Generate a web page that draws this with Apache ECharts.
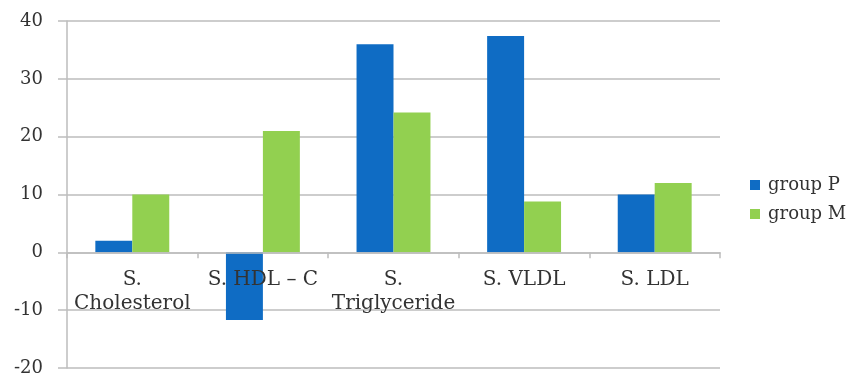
<!DOCTYPE html>
<html>
<head>
<meta charset="utf-8">
<script src="https://cdn.jsdelivr.net/npm/echarts@6/dist/echarts.min.js"></script>
<style>
  html, body { margin: 0; padding: 0; background: #ffffff; }
  #chart { width: 854px; height: 374px; }
</style>
</head>
<body>
<div id="chart"></div>
<script>
// Lipid profile changes per group
const categories = ['S.\nCholesterol', 'S. HDL \u2013 C', 'S.\nTriglyceride', 'S. VLDL', 'S. LDL'];
const groupP = [2, -11.7, 36, 37.4, 10];
const groupM = [10, 21, 24.2, 8.8, 12];
const yTicks = { min: -20, max: 40, interval: 10 };

const textColor = '#333333';
const fontFamily = '"DejaVu Serif", "Liberation Serif", serif';
const gridColor = '#bdbdbd';

const gridTop = 21;
const gridBottom = 6;
const chartHeight = 374;
// distance from the bottom of the plot up to the zero line
const plotHeight = chartHeight - gridTop - gridBottom;
const zeroOffset = plotHeight * (0 - yTicks.min) / (yTicks.max - yTicks.min);

const chart = echarts.init(document.getElementById('chart'), null, { renderer: 'canvas' });
chart.setOption({
  animation: false,
  backgroundColor: '#ffffff',
  grid: {
    left: 67, right: 134, top: gridTop, bottom: gridBottom,
    containLabel: false,
    outerBoundsMode: 'none'
  },
  legend: {
    orient: 'vertical',
    left: 745,
    top: 171,
    itemWidth: 10,
    itemHeight: 10,
    itemGap: 11,
    icon: 'rect',
    textStyle: { color: textColor, fontFamily: fontFamily, fontSize: 18, padding: [0, 0, 0, 3] },
    data: ['group P', 'group M']
  },
  xAxis: {
    type: 'category',
    data: categories,
    position: 'bottom',
    offset: -zeroOffset,
    z: 3,
    axisLine: { onZero: false, lineStyle: { color: gridColor, width: 1.5 } },
    axisTick: { show: true, length: 6, lineStyle: { color: gridColor, width: 1.5 } },
    axisLabel: {
      color: textColor,
      fontFamily: fontFamily,
      fontSize: 20,
      lineHeight: 24,
      margin: 15,
      interval: 0
    },
    splitLine: { show: false }
  },
  yAxis: {
    type: 'value',
    min: yTicks.min,
    max: yTicks.max,
    interval: yTicks.interval,
    axisLine: { show: true, lineStyle: { color: gridColor, width: 1.5 } },
    axisTick: { show: true, length: 9, lineStyle: { color: gridColor, width: 1.5 } },
    axisLabel: { color: textColor, fontFamily: fontFamily, fontSize: 18, margin: 24 },
    splitLine: { show: true, lineStyle: { color: gridColor, width: 1.5 } }
  },
  series: [
    {
      name: 'group P',
      type: 'bar',
      data: groupP,
      barWidth: '28.3%',
      barGap: '0%',
      itemStyle: { color: '#0f6cc4' }
    },
    {
      name: 'group M',
      type: 'bar',
      data: groupM,
      barWidth: '28.3%',
      barGap: '0%',
      itemStyle: { color: '#92d050' }
    }
  ]
});
</script>
</body>
</html>
